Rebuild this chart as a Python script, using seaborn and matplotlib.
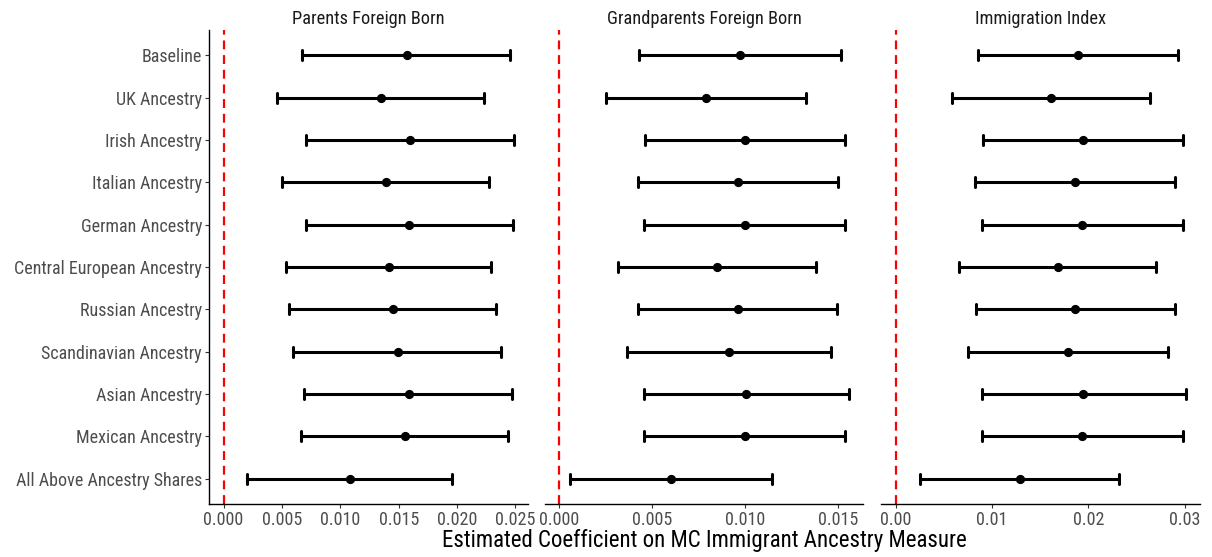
import numpy as np
import pandas as pd
import matplotlib
matplotlib.use("Agg")
import matplotlib.pyplot as plt
import matplotlib.font_manager as fm
import seaborn as sns

# ---------------- data ----------------
terms = ["Baseline", "UK Ancestry", "Irish Ancestry", "Italian Ancestry",
         "German Ancestry", "Central European Ancestry", "Russian Ancestry",
         "Scandinavian Ancestry", "Asian Ancestry", "Mexican Ancestry",
         "All Above Ancestry Shares"]

measures = ["Parents Foreign Born", "Grandparents Foreign Born", "Immigration Index"]

parents_est = [0.01567, 0.01348, 0.01596, 0.01390, 0.01590, 0.01416, 0.01450, 0.01490, 0.01584, 0.01553, 0.01085]
parents_lo  = [0.00676, 0.00457, 0.00708, 0.00505, 0.00706, 0.00534, 0.00565, 0.00594, 0.00685, 0.00665, 0.00205]
parents_hi  = [0.02449, 0.02232, 0.02483, 0.02274, 0.02477, 0.02294, 0.02334, 0.02375, 0.02472, 0.02438, 0.01958]

grand_est = [0.00971, 0.00787, 0.00998, 0.00961, 0.00998, 0.00848, 0.00959, 0.00912, 0.01003, 0.00996, 0.00602]
grand_lo  = [0.00430, 0.00250, 0.00459, 0.00421, 0.00457, 0.00316, 0.00420, 0.00364, 0.00452, 0.00455, 0.00059]
grand_hi  = [0.01511, 0.01325, 0.01536, 0.01496, 0.01536, 0.01380, 0.01493, 0.01461, 0.01554, 0.01537, 0.01141]

index_est = [0.01893, 0.01610, 0.01942, 0.01859, 0.01938, 0.01683, 0.01866, 0.01790, 0.01948, 0.01935, 0.01286]
index_lo  = [0.00855, 0.00583, 0.00903, 0.00824, 0.00897, 0.00662, 0.00838, 0.00748, 0.00893, 0.00897, 0.00259]
index_hi  = [0.02928, 0.02635, 0.02976, 0.02897, 0.02976, 0.02700, 0.02897, 0.02824, 0.03007, 0.02976, 0.02317]

xticks_parents = [0.000, 0.005, 0.010, 0.015, 0.020, 0.025]
xticks_grand = [0.000, 0.005, 0.010, 0.015]
xticks_index = [0.00, 0.01, 0.02, 0.03]
xtick_fmt = ["{:.3f}", "{:.3f}", "{:.2f}"]

x_label = "Estimated Coefficient on MC Immigrant Ancestry Measure"

# ---------------- long table (lo / est / hi per term) ----------------
series = {
    measures[0]: (parents_lo, parents_est, parents_hi),
    measures[1]: (grand_lo, grand_est, grand_hi),
    measures[2]: (index_lo, index_est, index_hi),
}
rows = []
for m, (lo, est, hi) in series.items():
    for t, a, b, c in zip(terms, lo, est, hi):
        for v in (a, b, c):
            rows.append({"measure": m, "term": t, "value": v})
df = pd.DataFrame(rows)

# ---------------- style ----------------
sns.set_style("white")
names = {f.name for f in fm.fontManager.ttflist}
FONT = "DejaVu Sans"
for cand in ["Roboto Condensed", "Roboto", "Liberation Sans Narrow"]:
    if cand in names:
        FONT = cand
        break
plt.rcParams["font.family"] = [FONT, "DejaVu Sans"]

W, H = 1212, 557
fig = plt.figure(figsize=(W / 100, H / 100), dpi=100)
fig.patch.set_facecolor("white")

panels_px = [(209, 528), (545, 863), (881, 1200)]
top_px, bot_px = 30, 504
tick_sets = [xticks_parents, xticks_grand, xticks_index]
FS = 13

for i, m in enumerate(measures):
    l, r = panels_px[i]
    ax = fig.add_axes([l / W, 1 - bot_px / H, (r - l) / W, (bot_px - top_px) / H])
    sub = df[df["measure"] == m]
    ax.axvline(0, color="red", lw=1.6, ls=(0, (4, 2.6)), zorder=0)
    sns.pointplot(data=sub, x="value", y="term", order=terms,
                  estimator=np.median, errorbar=("pi", 100),
                  color="black", linestyle="none", marker="o", markersize=4.6,
                  capsize=0.24, err_kws={"linewidth": 2.2}, orient="h", ax=ax)
    lo_all = min(0, sub["value"].min())
    hi_all = sub["value"].max()
    span = hi_all - lo_all
    ax.set_xlim(lo_all - 0.05 * span, hi_all + 0.05 * span)
    ax.set_ylim(len(terms) - 0.4, -0.6)
    ax.set_xticks(tick_sets[i])
    ax.set_xticklabels([xtick_fmt[i].format(v) for v in tick_sets[i]])
    ax.set_xlabel("")
    ax.set_ylabel("")
    ax.set_title(m, fontsize=13.2, color="#1A1A1A", pad=4)
    for s in ["top", "right"]:
        ax.spines[s].set_visible(False)
    ax.spines["bottom"].set_color("black")
    ax.spines["bottom"].set_linewidth(1.0)
    ax.tick_params(axis="x", length=3, width=0.8, color="#333333",
                   labelsize=FS, labelcolor="#4D4D4D", pad=2, bottom=True)
    if i == 0:
        ax.spines["left"].set_color("black")
        ax.spines["left"].set_linewidth(1.0)
        ax.tick_params(axis="y", length=3, width=0.8, color="#333333",
                       labelsize=FS, labelcolor="#4D4D4D", pad=2, left=True)
    else:
        ax.spines["left"].set_visible(False)
        ax.tick_params(axis="y", left=False, labelleft=False)

fig.text(((209 + 1200) / 2) / W, 1 - 540 / H, x_label, ha="center", va="center",
         fontsize=16.5, color="black")

fig.savefig("out.png", dpi=100, facecolor="white")
